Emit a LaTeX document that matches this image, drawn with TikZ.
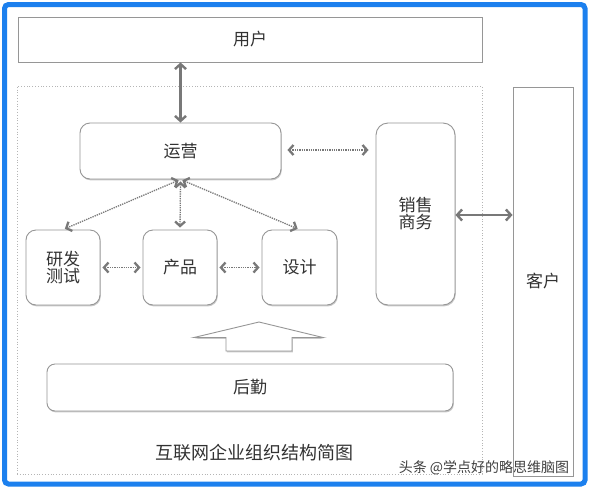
\documentclass[tikz,border=0pt]{standalone}
\usepackage{fontspec}
\setmainfont{Noto Sans CJK SC}
\usetikzlibrary{arrows.meta,shadows}
\definecolor{frameblue}{RGB}{28,128,238}
\definecolor{boxline}{RGB}{150,150,150}
\definecolor{txt}{RGB}{50,50,50}
\definecolor{arr}{RGB}{120,120,120}
\tikzset{
  box/.style={draw=boxline, line width=0.9pt, fill=white, inner sep=0pt, text=txt,
    font=\fontsize{17}{20}\selectfont, align=center,
    drop shadow={shadow xshift=0.8pt, shadow yshift=-1.4pt, opacity=0.35, fill=black!60}},
  rbox/.style={box, rounded corners=10pt},
  dotarrow/.style={draw=arr, line width=1.3pt, densely dotted,
    {Straight Barb[length=4.5pt,width=10pt,line width=2.3pt]}-{Straight Barb[length=4.5pt,width=10pt,line width=2.3pt]}},
  thickarrow/.style={draw=arr, line width=2.6pt,
    {Straight Barb[length=5pt,width=11pt,line width=2.4pt]}-{Straight Barb[length=5pt,width=11pt,line width=2.4pt]}}
}
\begin{document}
\begin{tikzpicture}[x=1pt,y=-1pt]
\useasboundingbox (0,0) rectangle (589,488);
\fill[white] (0,0) rectangle (589,488);
% container
\node[draw=boxline!70, dotted, line width=0.8pt, minimum width=465pt, minimum height=388pt, inner sep=0pt] (cont) at (249.5,280) {};
% boxes
\node[box, minimum width=464pt, minimum height=45pt] (user) at (250,39.5) {用户};
\node[rbox, minimum width=201pt, minimum height=56pt] (ops) at (180.5,151) {运营};
\node[box, rounded corners=12pt, minimum width=79pt, minimum height=182pt] (sales) at (415.5,214) {销售\\[-3pt]商务};
\node[rbox, minimum width=74pt, minimum height=75pt] (rd) at (63,267.5) {研发\\[-3pt]测试};
\node[rbox, minimum width=74pt, minimum height=75pt] (prod) at (180,267.5) {产品};
\node[rbox, minimum width=75pt, minimum height=75pt] (design) at (299.5,267.5) {设计};
\node[box, rounded corners=8pt, minimum width=406pt, minimum height=47pt] (log) at (250,387.5) {后勤};
\node[box, minimum width=60pt, minimum height=389pt] (cust) at (543,281.5) {客户};
% block up arrow
\draw[draw=boxline, line width=0.9pt, fill=white, drop shadow={shadow xshift=0.8pt, shadow yshift=-1.4pt, opacity=0.35, fill=black!60}]
  (226,351) -- (226,337.5) -- (194,337.5) -- (259,322) -- (323,337.5) -- (292,337.5) -- (292,351) -- cycle;
% connectors
\draw[thickarrow] (ops.north |- user.south) -- (ops.north);
\draw[thickarrow] (sales.east |- 0,215) -- (cust.west |- 0,215);
\draw[dotarrow, shorten <=6pt, shorten >=7pt] (ops.east |- 0,150) -- (sales.west |- 0,150);
\draw[dotarrow, shorten <=2pt, shorten >=2pt] (ops.south) -- (rd.north);
\draw[dotarrow, shorten <=2pt, shorten >=2pt] (ops.south) -- (prod.north);
\draw[dotarrow, shorten <=2pt, shorten >=2pt] (ops.south) -- (design.north);
\draw[dotarrow, shorten <=2pt, shorten >=2pt] (rd.east) -- (prod.west);
\draw[dotarrow, shorten <=2pt, shorten >=2pt] (prod.east) -- (design.west);
% caption
\node[text=txt, font=\fontsize{18}{20}\selectfont, inner sep=0pt] (cap) at (254,453) {互联网企业组织结构简图};
\node[text=black!75, font=\fontsize{14}{16}\selectfont, inner sep=0pt] (wm) at (484,468) {头条 @学点好的略思维脑图};
% blue frame
\draw[frameblue, line width=5pt, rounded corners=4pt] (4.5,4.5) rectangle (585,484);
\end{tikzpicture}
\end{document}
